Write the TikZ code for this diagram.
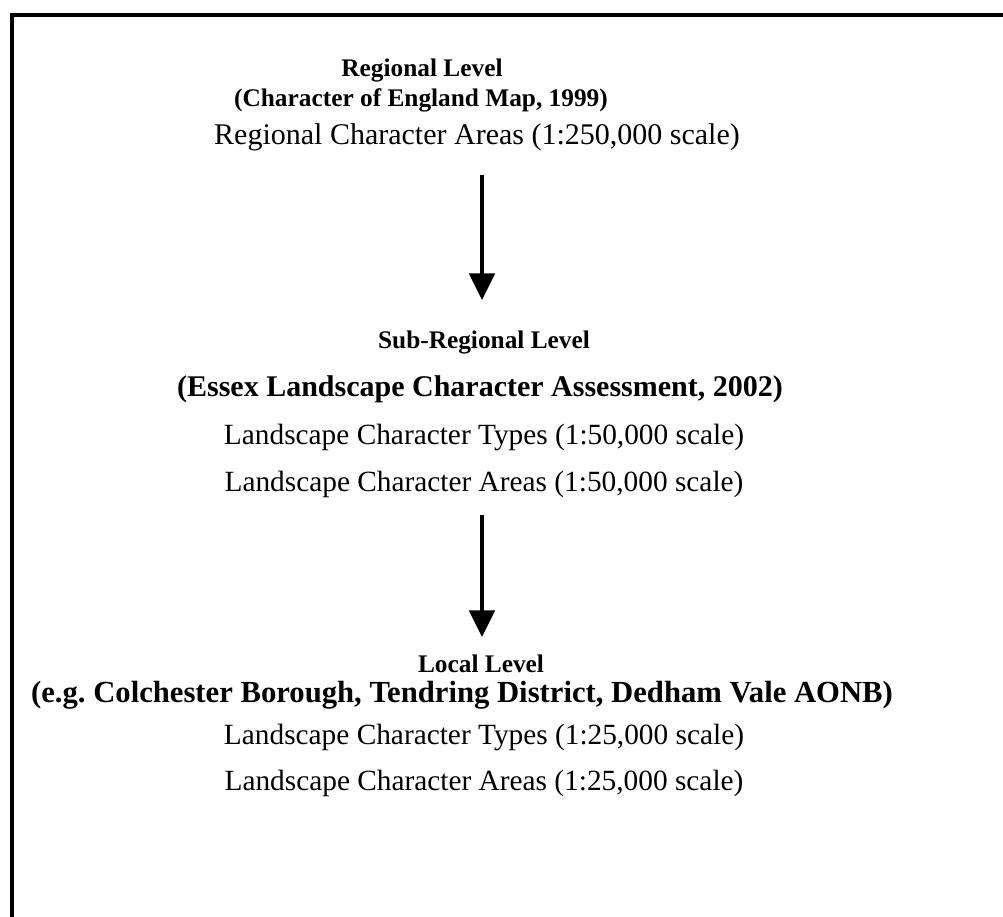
\documentclass[tikz,border=0pt]{standalone}
\usepackage{fontspec}
\setmainfont{Liberation Serif}
\usetikzlibrary{arrows.meta}

\begin{document}
\begin{tikzpicture}[
	x=0.75pt, y=-0.75pt,
	levelhead/.style={ anchor=base, inner sep=0pt, font=\fontsize{19}{23}\selectfont\bfseries },
	sourcehead/.style={ anchor=base, inner sep=0pt, font=\fontsize{22.5}{27}\selectfont\bfseries },
	detail/.style={ anchor=base, inner sep=0pt, font=\fontsize{22}{26}\selectfont },
	flow/.style={ line width=3pt, -{Triangle[length=20pt,width=19pt]} },
	frame/.style={ line width=3pt }
]
\useasboundingbox (0,0) rectangle (1003,917);
\draw[frame] (1003,15.5) -- (12,15.5) -- (12,917);

% regional
\node at (422,77) (lvlreg) [levelhead] {Regional Level};
\node at (421,107) (srcreg) [levelhead] {(Character of England Map, 1999)};
\node at (477,144) (areareg) [detail, font=\fontsize{22.5}{27}\selectfont] {Regional Character Areas (1:250,000 scale)};

\coordinate (a1s) at (482,175);
\coordinate (a1e) at (482,300);
\draw[flow] (a1s) -- (a1e);

% sub-regional
\node at (484,348) (lvlsub) [levelhead] {Sub-Regional Level};
\node at (480,396) (srcsub) [sourcehead] {(Essex Landscape Character Assessment, 2002)};
\node at (484,444) (typsub) [detail] {Landscape Character Types (1:50,000 scale)};
\node at (484,491) (areasub) [detail] {Landscape Character Areas (1:50,000 scale)};

\coordinate (a2s) at (482,515);
\coordinate (a2e) at (482,637);
\draw[flow] (a2s) -- (a2e);

% local
\node at (481,672) (lvlloc) [levelhead] {Local Level};
\node at (462,702) (srcloc) [sourcehead, font=\fontsize{23}{28}\selectfont\bfseries] {(e.g.\ Colchester Borough, Tendring District, Dedham Vale AONB)};
\node at (484,744) (typloc) [detail] {Landscape Character Types (1:25,000 scale)};
\node at (484,790) (arealoc) [detail] {Landscape Character Areas (1:25,000 scale)};

\end{tikzpicture}
\end{document}
